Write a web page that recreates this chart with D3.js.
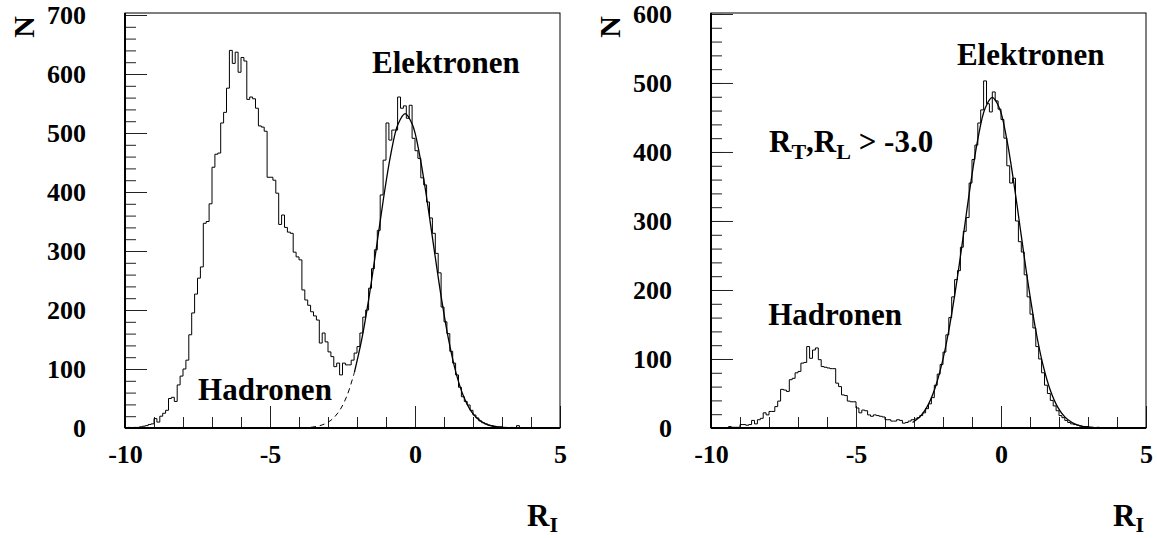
<!DOCTYPE html>
<html>
<head>
<meta charset="utf-8">
<title>R_I Verteilung</title>
<script src="https://cdn.jsdelivr.net/npm/d3@7"></script>
<style>
  body { margin: 0; background: #ffffff; }
  text { font-family: "Liberation Serif", "Times New Roman", serif; font-weight: bold; fill: #000; }
</style>
</head>
<body>
<script>
// histogram bins: 0.1 wide, starting at R_I = -10
var binStart = -10, binWidth = 0.1;

// all events (left)
var countsAll = [
  0, 1, 0, 1, 1, 2, 3, 4, 6, 7,
  16, 10, 20, 25, 30, 50, 52, 45, 73, 88,
  100, 115, 158, 195, 227, 254, 273, 347, 350, 380,
  442, 464, 466, 517, 535, 576, 640, 618, 637, 603,
  628, 622, 557, 561, 558, 542, 512, 510, 503, 425,
  425, 420, 398, 345, 361, 340, 332, 330, 298, 290,
  285, 234, 217, 208, 197, 190, 183, 144, 161, 146,
  129, 121, 104, 110, 90, 110, 107, 107, 115, 127,
  138, 161, 188, 200, 237, 270, 302, 335, 395, 454,
  517, 488, 505, 505, 561, 542, 546, 525, 547, 491,
  470, 457, 424, 412, 383, 356, 330, 296, 263, 205,
  180, 160, 130, 110, 90, 69, 53, 45, 39, 30,
  22, 17, 12, 9, 7, 5, 4, 3, 2, 2,
  1, 1, 0, 1, 0, 4, 0, 0, 0, 0,
  0, 0, 0, 0, 0, 0, 0, 0, 0, 0
];

// with cut R_T, R_L > -3.0 (right)
var countsCut = [
  0, 0, 0, 0, 0, 0, 2, 1, 1, 1,
  5, 5, 4, 5, 11, 6, 12, 14, 22, 19,
  24, 24, 31, 39, 56, 55, 53, 70, 72, 80,
  82, 94, 95, 118, 101, 113, 116, 99, 89, 88,
  87, 86, 86, 65, 60, 48, 47, 39, 38, 38,
  29, 22, 26, 25, 19, 17, 19, 18, 17, 16,
  12, 12, 10, 10, 12, 11, 7, 8, 10, 12,
  13, 15, 18, 22, 28, 35, 44, 62, 78, 92,
  110, 135, 160, 190, 215, 228, 262, 285, 305, 355,
  389, 410, 442, 461, 503, 470, 458, 487, 474, 462,
  447, 420, 380, 355, 362, 300, 270, 255, 222, 190,
  165, 145, 118, 100, 80, 62, 50, 40, 32, 25,
  18, 15, 11, 8, 6, 5, 4, 3, 2, 2,
  1, 1, 0, 1, 0, 0, 0, 0, 0, 0,
  0, 0, 0, 0, 0, 0, 0, 0, 0, 0
];

var fitAllX = [-3.59, -3.34, -3.09, -2.84, -2.59, -2.34, -2.09, -1.84, -1.59, -1.34, -1.09, -0.84, -0.59, -0.34,
  -0.09, 0.16, 0.41, 0.66, 0.91, 1.16, 1.41, 1.66, 1.91, 2.16, 2.41, 2.66, 2.91, 3.16, 3.41];
var fitAllY = [1.3, 3.3, 7.4, 15.5, 30.4, 55.4, 94.2, 149.2, 220.2, 302.7, 387.7, 462.7, 514.4, 533,
  514.4, 462.7, 387.7, 302.7, 220.2, 149.2, 94.2, 55.4, 30.4, 15.5, 7.4, 3.3, 1.3, 0.5, 0.2];
var fitAllSolidFrom = -2.09;

var fitCutX = [-3.05, -2.80, -2.55, -2.30, -2.05, -1.80, -1.55, -1.30, -1.05, -0.80, -0.55, -0.30,
  -0.05, 0.20, 0.45, 0.70, 0.95, 1.20, 1.45, 1.70, 1.95, 2.20, 2.45, 2.70, 2.95, 3.20, 3.45];
var fitCutY = [7.9, 16.1, 30.7, 54.7, 91.0, 141.3, 205.2, 278.4, 353.0, 418.3, 463.0, 479,
  463.0, 418.3, 353.0, 278.4, 205.2, 141.3, 91.0, 54.7, 30.7, 16.1, 7.9, 3.6, 1.6, 0.6, 0.2];

var xTicks = [-10, -5, 0, 5];
var yTicksAll = [0, 100, 200, 300, 400, 500, 600, 700];
var yTicksCut = [0, 100, 200, 300, 400, 500, 600];

var svg = d3.select("body").append("svg")
  .attr("width", 1157)
  .attr("height", 538);

function drawPanel(p) {
  var x = d3.scaleLinear().domain([-10, 5]).range([p.left, p.right]);
  var y = d3.scaleLinear().domain([0, p.ymax]).range([p.bottom, p.top]);
  var g = svg.append("g");

  // minor ticks, pointing inward
  g.append("g")
    .attr("transform", "translate(" + p.left + ",0)")
    .call(d3.axisLeft(y).tickValues(d3.range(0, p.ymax, 20)).tickSize(-11).tickFormat(""))
    .call(function (a) { a.select(".domain").remove(); });
  g.append("g")
    .attr("transform", "translate(0," + p.bottom + ")")
    .call(d3.axisBottom(x).tickValues(d3.range(-10, 6, 1)).tickSize(-11).tickFormat(""))
    .call(function (a) { a.select(".domain").remove(); });

  // major ticks + labels
  var ya = g.append("g")
    .attr("transform", "translate(" + p.left + ",0)")
    .call(d3.axisLeft(y).tickValues(p.yTicks).tickSize(-22).tickPadding(39).tickFormat(d3.format("d")));
  ya.attr("font-family", null).attr("font-size", null);
  ya.select(".domain").remove();
  ya.selectAll("text").style("font-size", "26px");

  var xa = g.append("g")
    .attr("transform", "translate(0," + p.bottom + ")")
    .call(d3.axisBottom(x).tickValues(xTicks).tickSize(-22).tickPadding(17).tickFormat(function (d) { return d < 0 ? "-" + (-d) : d; }));
  xa.attr("font-family", null).attr("font-size", null);
  xa.select(".domain").remove();
  xa.selectAll("text").style("font-size", "26px");

  g.selectAll(".tick line").attr("stroke", "#222").attr("stroke-width", 1);

  // histogram as steps
  var steps = p.counts.map(function (c, i) { return [binStart + i * binWidth, c]; });
  steps.push([binStart + p.counts.length * binWidth, p.counts[p.counts.length - 1]]);
  var stepLine = d3.line()
    .x(function (d) { return x(d[0]); })
    .y(function (d) { return y(d[1]); })
    .curve(d3.curveStepAfter);
  g.append("path")
    .attr("d", stepLine(steps))
    .attr("fill", "none")
    .attr("stroke", "#000")
    .attr("stroke-width", 1);

  // fit curve
  var fit = p.fitX.map(function (v, i) { return [v, p.fitY[i]]; });
  var fitLine = d3.line()
    .x(function (d) { return x(d[0]); })
    .y(function (d) { return y(d[1]); })
    .curve(d3.curveCatmullRom);
  var solid = fit.filter(function (d) { return d[0] >= p.solidFrom - 1e-9; });
  var dashed = fit.filter(function (d) { return d[0] <= p.solidFrom + 1e-9; });
  if (dashed.length > 1) {
    g.append("path")
      .attr("d", fitLine(dashed))
      .attr("fill", "none")
      .attr("stroke", "#000")
      .attr("stroke-width", 1)
      .attr("stroke-dasharray", "5,4");
  }
  g.append("path")
    .attr("d", fitLine(solid))
    .attr("fill", "none")
    .attr("stroke", "#000")
    .attr("stroke-width", 1.3);

  // frame
  g.append("rect")
    .attr("x", p.left).attr("y", p.top)
    .attr("width", p.right - p.left).attr("height", p.bottom - p.top)
    .attr("fill", "none").attr("stroke", "#000").attr("stroke-width", 1);
  g.append("line")
    .attr("x1", p.left).attr("x2", p.left).attr("y1", p.top).attr("y2", p.bottom)
    .attr("stroke", "#000").attr("stroke-width", 2);
  g.append("line")
    .attr("x1", p.left).attr("x2", p.right).attr("y1", p.bottom).attr("y2", p.bottom)
    .attr("stroke", "#000").attr("stroke-width", 2);

  // axis titles
  g.append("text")
    .attr("transform", "translate(" + (p.left - 102) + "," + (p.top + 14) + ") rotate(-90)")
    .attr("text-anchor", "middle")
    .attr("dy", "0.35em")
    .style("font-size", "30px")
    .text("N");

  var rt = g.append("text")
    .attr("x", p.right - 33)
    .attr("y", 526)
    .style("font-size", "31px");
  rt.append("tspan").text("R");
  rt.append("tspan").attr("dy", 6).style("font-size", "22px").text("I");

  // annotations
  p.labels.forEach(function (l) {
    var t = g.append("text")
      .attr("x", x(l.x))
      .attr("y", y(l.y))
      .style("font-size", "31px");
    l.parts.forEach(function (s) {
      t.append("tspan")
        .attr("dy", s.sub ? 7 : (s.after ? -7 : 0))
        .style("font-size", s.sub ? "22px" : null)
        .text(s.t);
    });
  });
}

drawPanel({
  left: 125, right: 560, top: 13, bottom: 428, ymax: 703.4,
  yTicks: yTicksAll, counts: countsAll,
  fitX: fitAllX, fitY: fitAllY, solidFrom: fitAllSolidFrom,
  labels: [
    { x: -1.48, y: 602, parts: [{ t: "Elektronen" }] },
    { x: -7.48, y: 47, parts: [{ t: "Hadronen" }] }
  ]
});

drawPanel({
  left: 711, right: 1146, top: 13, bottom: 428, ymax: 601.4,
  yTicks: yTicksCut, counts: countsCut,
  fitX: fitCutX, fitY: fitCutY, solidFrom: fitCutX[0],
  labels: [
    { x: -1.52, y: 526, parts: [{ t: "Elektronen" }] },
    { x: -8.03, y: 149, parts: [{ t: "Hadronen" }] },
    { x: -8.0, y: 400, parts: [
      { t: "R" }, { t: "T", sub: true }, { t: ",R", after: true },
      { t: "L", sub: true }, { t: " > -3.0", after: true }
    ] }
  ]
});
</script>
</body>
</html>
